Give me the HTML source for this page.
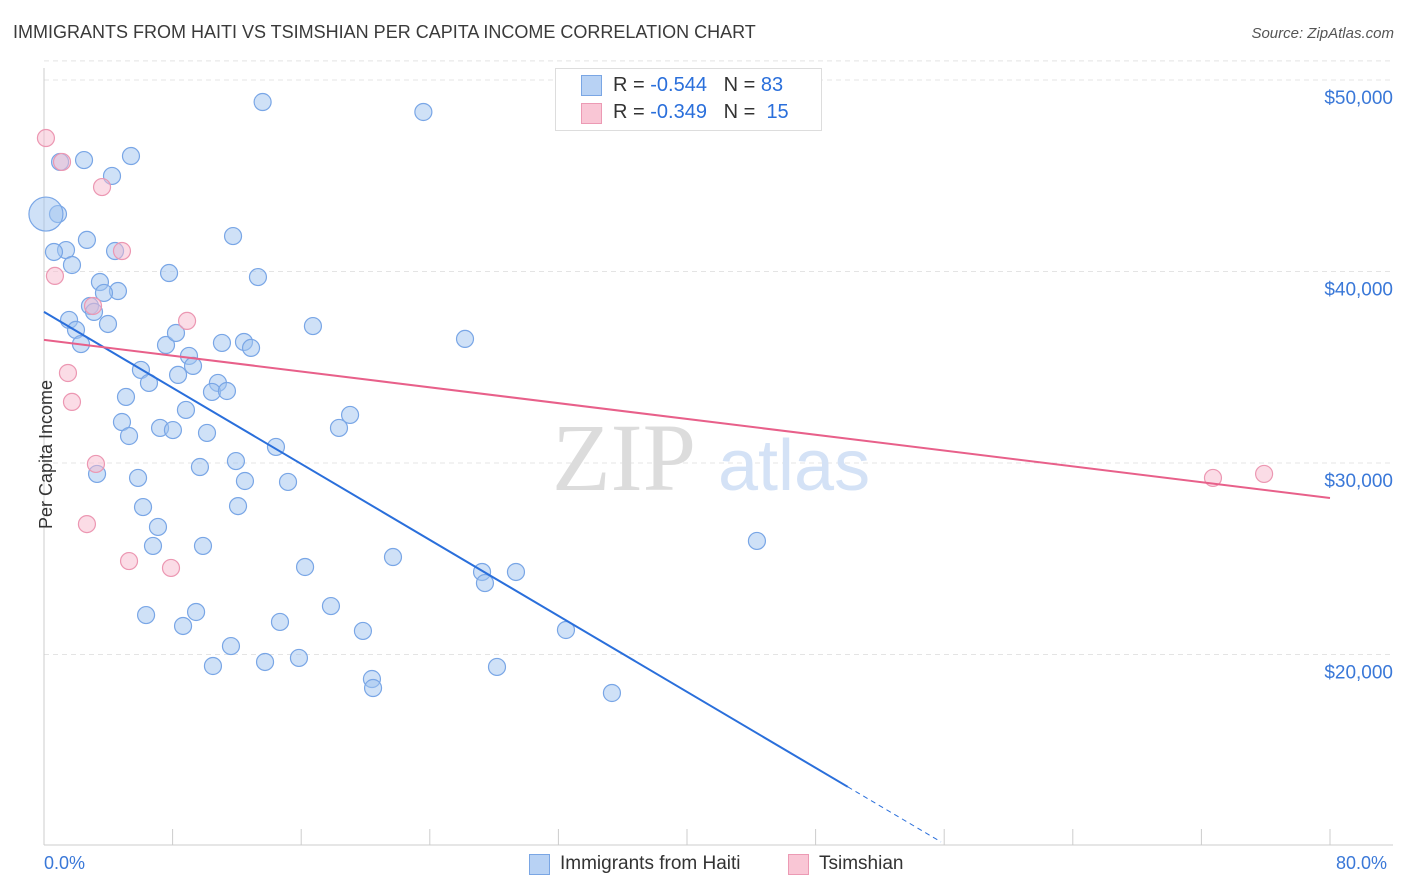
<!DOCTYPE html>
<html><head><meta charset="utf-8"><style>
body{margin:0;background:#fff;font-family:"Liberation Sans",sans-serif;}
#wrap{position:relative;width:1406px;height:892px;overflow:hidden;}
.t{position:absolute;white-space:nowrap;}
</style></head><body>
<div id="wrap">
<div class="t" style="left:13px;top:22px;font-size:18px;color:#3a3a3a;">IMMIGRANTS FROM HAITI VS TSIMSHIAN PER CAPITA INCOME CORRELATION CHART</div>
<div class="t" style="right:12px;top:25px;font-size:15px;color:#555;font-style:italic;">Source: ZipAtlas.com</div>
<svg id="svg" width="1406" height="892" style="position:absolute;left:0;top:0"></svg>
<div class="t" style="left:555px;top:68px;width:265px;height:61px;border:1px solid #ddd;background:#fff;"></div>
<div class="t" style="left:581px;top:75px;width:19px;height:19px;background:#b8d2f4;border:1px solid #7aa6e4;"></div>
<div class="t" style="left:581px;top:103px;width:19px;height:19px;background:#f9c6d5;border:1px solid #ec9ab4;"></div>
<div class="t" style="left:613px;top:74px;font-size:20px;color:#333;">R = <span style="color:#2a6fdb">-0.544</span>&nbsp;&nbsp;&nbsp;N = <span style="color:#2a6fdb">83</span></div>
<div class="t" style="left:613px;top:101px;font-size:20px;color:#333;">R = <span style="color:#2a6fdb">-0.349</span>&nbsp;&nbsp;&nbsp;N = &nbsp;<span style="color:#2a6fdb">15</span></div>
<div class="t" style="left:-28px;top:444px;font-size:18px;color:#333;transform:rotate(-90deg);">Per Capita Income</div>
<div class="t" style="left:44px;top:853px;font-size:18px;color:#3a78d8;">0.0%</div>
<div class="t" style="left:1336px;top:853px;font-size:18px;color:#3a78d8;">80.0%</div>
<div class="t" style="left:529px;top:854px;width:19px;height:19px;background:#b8d2f4;border:1px solid #7aa6e4;"></div>
<div class="t" style="left:560px;top:853px;font-size:19px;color:#333;">Immigrants from Haiti</div>
<div class="t" style="left:788px;top:854px;width:19px;height:19px;background:#f9c6d5;border:1px solid #ec9ab4;"></div>
<div class="t" style="left:819px;top:853px;font-size:19px;color:#333;">Tsimshian</div>
</div>
<script>
const yTicks=[20000,30000,40000,50000];
const yTickLabels=["$20,000","$30,000","$40,000","$50,000"];
const blueX=[13.6,23.6,2.49,5.41,4.23,1.0,0.87,0.12,2.67,11.76,1.37,0.62,4.42,1.74,7.78,13.31,3.48,4.6,3.73,2.86,3.11,1.56,1.99,3.98,16.73,2.3,26.19,7.59,11.07,12.44,12.88,8.21,9.02,9.27,6.03,8.34,6.53,10.82,10.45,11.38,5.1,8.83,4.85,7.22,8.02,18.35,19.04,5.29,10.14,14.43,11.94,9.7,3.3,5.85,12.5,15.18,6.16,12.07,7.09,6.78,9.89,44.35,21.71,16.24,27.25,29.36,27.43,17.85,9.46,6.35,8.65,14.68,19.84,32.47,11.63,15.86,13.75,10.51,28.18,20.4,20.47,35.33];
const blueY=[48850,48330,45820,46030,44990,45720,43000,43000,41650,41850,41120,41020,41070,40340,39920,39710,39450,38980,38880,38200,37890,37470,36950,37260,37150,36210,36480,36160,36270,36320,36010,36790,35590,35070,34860,34600,34180,34180,33710,33760,33450,32770,32140,31830,31720,31830,32510,31410,31570,30840,30100,29790,29430,29220,29060,29010,27700,27750,26660,25670,25670,25930,25090,24570,24310,24310,23730,22530,22220,22060,21490,21700,21230,21280,20440,19820,19610,19400,19350,18720,18250,17990];
const pinkX=[0.12,1.12,3.61,4.85,0.68,3.05,8.9,1.49,1.74,3.23,2.67,5.29,7.9,72.72,75.9];
const pinkY=[46970,45720,44410,41070,39770,38200,37420,34700,33190,29950,26810,24880,24520,29220,29430];
const blueTrend=[37890,-496];
const pinkTrend=[36430,-103.25];
const svg=document.getElementById('svg');const NS='http://www.w3.org/2000/svg';
const X=v=>44+v/80*1286, Y=v=>846-(v-10000)/10000*191.5;
function mk(t,a,name){const e=document.createElementNS(NS,t);for(const k in a)e.setAttribute(k,a[k]);


svg.appendChild(e);return e;}
yTicks.forEach((v,i)=>{mk('line',{x1:44,x2:1393,y1:Y(v),y2:Y(v),stroke:'#e4e4e4','stroke-dasharray':'5,4'},'y-gridline');
const t=mk('text',{x:1393,y:Y(v)+24,'text-anchor':'end','font-size':19,fill:'#3a78d8','font-family':'Liberation Sans'},'y-tick-label');t.textContent=yTickLabels[i];});
mk('line',{x1:44,x2:1393,y1:Y(51000),y2:Y(51000),stroke:'#e4e4e4','stroke-dasharray':'5,4'},'top-gridline');
mk('line',{x1:44,x2:44,y1:68,y2:845,stroke:'#ccc'},'y-axis-line');
mk('line',{x1:44,x2:1393,y1:845,y2:845,stroke:'#ccc'},'x-axis-line');
for(let k=1;k<=10;k++){mk('line',{x1:X(k*8),x2:X(k*8),y1:829,y2:845,stroke:'#ccc'},'x-tick');}
const w1=mk('text',{x:552,y:490,'font-size':96,fill:'#dcdcdc','font-family':'Liberation Serif'},'watermark-zip');w1.textContent='ZIP';
const w2=mk('text',{x:718,y:490,'font-size':72,fill:'#d4e2f6','font-family':'Liberation Sans'},'watermark-atlas');w2.textContent='atlas';
blueX.forEach((x,i)=>mk('circle',{cx:X(x),cy:Y(blueY[i]),r:i==7?17:8.5,fill:'rgba(160,195,240,0.5)',stroke:'#79a6e6','stroke-width':1.2},'blue-point'));
pinkX.forEach((x,i)=>mk('circle',{cx:X(x),cy:Y(pinkY[i]),r:8.5,fill:'rgba(248,185,205,0.5)',stroke:'#ec97b2','stroke-width':1.2},'pink-point'));
const bt=x=>blueTrend[0]+blueTrend[1]*x, pt=x=>pinkTrend[0]+pinkTrend[1]*x;
mk('line',{x1:X(0),y1:Y(bt(0)),x2:X(50),y2:Y(bt(50)),stroke:'#2a6fdb','stroke-width':2},'blue-trend-line');
mk('line',{x1:X(50),y1:Y(bt(50)),x2:X(55.8),y2:Y(bt(55.8)),stroke:'#2a6fdb','stroke-width':1,'stroke-dasharray':'5,4'},'blue-trend-extension');
mk('line',{x1:X(0),y1:Y(pt(0)),x2:X(80),y2:Y(pt(80)),stroke:'#e8608a','stroke-width':2},'pink-trend-line');
</script>
</body></html>
